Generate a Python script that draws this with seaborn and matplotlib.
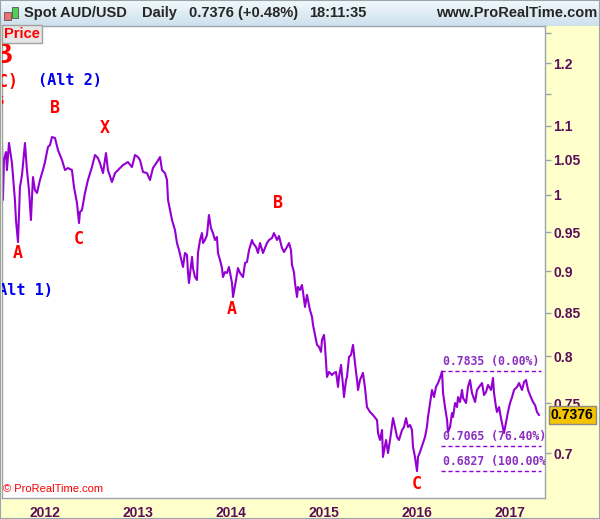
import matplotlib
matplotlib.use("Agg")
import matplotlib.pyplot as plt
import matplotlib.ticker as mticker
import matplotlib.transforms as mtransforms
from matplotlib.colors import LinearSegmentedColormap
from matplotlib.patches import Rectangle
import numpy as np
import seaborn as sns

# AUD/USD daily close (decimal year, price)
years = [
    2011.538, 2011.548, 2011.559, 2011.581, 2011.591, 2011.613, 2011.645, 2011.677,
    2011.688, 2011.710, 2011.731, 2011.753, 2011.785, 2011.806, 2011.828, 2011.849,
    2011.871, 2011.892, 2011.914, 2011.946, 2011.978, 2012.000, 2012.032, 2012.054,
    2012.075, 2012.108, 2012.140, 2012.183, 2012.215, 2012.247, 2012.290, 2012.312,
    2012.344, 2012.366, 2012.376, 2012.398, 2012.430, 2012.462, 2012.505, 2012.538,
    2012.570, 2012.591, 2012.624, 2012.656, 2012.677, 2012.720, 2012.753, 2012.785,
    2012.839, 2012.892, 2012.935, 2012.968, 2013.000, 2013.022, 2013.054, 2013.097,
    2013.129, 2013.161, 2013.204, 2013.237, 2013.258, 2013.290, 2013.312, 2013.323,
    2013.344, 2013.366, 2013.398, 2013.419, 2013.441, 2013.473, 2013.484, 2013.505,
    2013.527, 2013.538, 2013.548, 2013.581, 2013.591, 2013.613, 2013.634, 2013.645,
    2013.667, 2013.688, 2013.699, 2013.720, 2013.742, 2013.763, 2013.785, 2013.806,
    2013.828, 2013.849, 2013.860, 2013.882, 2013.903, 2013.914, 2013.935, 2013.957,
    2013.978, 2014.011, 2014.022, 2014.054, 2014.075, 2014.097, 2014.129, 2014.151,
    2014.172, 2014.194, 2014.226, 2014.237, 2014.269, 2014.290, 2014.312, 2014.344,
    2014.387, 2014.409, 2014.441, 2014.462, 2014.495, 2014.516, 2014.548, 2014.570,
    2014.602, 2014.624, 2014.645, 2014.656, 2014.677, 2014.688, 2014.710, 2014.720,
    2014.742, 2014.763, 2014.774, 2014.796, 2014.817, 2014.828, 2014.849, 2014.871,
    2014.882, 2014.903, 2014.925, 2014.946, 2014.968, 2014.978, 2015.000, 2015.011,
    2015.022, 2015.032, 2015.054, 2015.086, 2015.108, 2015.129, 2015.151, 2015.161,
    2015.183, 2015.204, 2015.215, 2015.237, 2015.247, 2015.269, 2015.290, 2015.312,
    2015.333, 2015.355, 2015.366, 2015.387, 2015.419, 2015.441, 2015.462, 2015.495,
    2015.527, 2015.570, 2015.581, 2015.602, 2015.624, 2015.634, 2015.667, 2015.688,
    2015.710, 2015.742, 2015.763, 2015.785, 2015.806, 2015.839, 2015.860, 2015.882,
    2015.903, 2015.925, 2015.946, 2015.957, 2015.978, 2016.000, 2016.011, 2016.032,
    2016.065, 2016.086, 2016.108, 2016.118, 2016.140, 2016.161, 2016.183, 2016.204,
    2016.226, 2016.247, 2016.269, 2016.280, 2016.301, 2016.323, 2016.333, 2016.355,
    2016.376, 2016.387, 2016.409, 2016.430, 2016.441, 2016.462, 2016.484, 2016.495,
    2016.527, 2016.548, 2016.570, 2016.591, 2016.624, 2016.645, 2016.667, 2016.699,
    2016.720, 2016.742, 2016.763, 2016.796, 2016.817, 2016.828, 2016.849, 2016.860,
    2016.882, 2016.903, 2016.925, 2016.935, 2016.957, 2016.978, 2017.000, 2017.022,
    2017.043, 2017.075, 2017.097, 2017.129, 2017.151, 2017.172, 2017.194, 2017.215,
    2017.247, 2017.269, 2017.290, 2017.312,
]
aud_usd = [
    1.0758, 0.9931, 1.0494, 1.0611, 1.0350, 1.0744, 1.0451, 0.9931,
    0.9659, 0.9370, 1.0110, 1.0279, 1.0744, 1.0350, 1.0068, 0.9659,
    1.0250, 1.0068, 1.0027, 1.0208, 1.0350, 1.0465, 1.0685, 1.0714,
    1.0833, 1.0818, 1.0641, 1.0494, 1.0350, 1.0379, 1.0350, 1.0110,
    0.9889, 0.9619, 0.9767, 0.9794, 1.0027, 1.0208, 1.0393, 1.0567,
    1.0523, 1.0451, 1.0307, 1.0596, 1.0350, 1.0180, 1.0307, 1.0350,
    1.0422, 1.0465, 1.0393, 1.0567, 1.0538, 1.0494, 1.0322, 1.0307,
    1.0208, 1.0379, 1.0465, 1.0538, 1.0350, 1.0307, 1.0208, 0.9931,
    0.9794, 0.9659, 0.9526, 0.9357, 0.9267, 0.9102, 0.9052, 0.9229,
    0.9204, 0.8977, 0.8854, 0.9179, 0.9039, 0.8927, 0.8891, 0.9229,
    0.9396, 0.9487, 0.9357, 0.9396, 0.9461, 0.9726, 0.9552, 0.9487,
    0.9396, 0.9435, 0.9229, 0.9140, 0.9039, 0.8927, 0.8989, 0.8977,
    0.9052, 0.8854, 0.8685, 0.8891, 0.9039, 0.8977, 0.8927, 0.9102,
    0.9115, 0.9267, 0.9396, 0.9357, 0.9306, 0.9229, 0.9357, 0.9229,
    0.9357, 0.9396, 0.9422, 0.9487, 0.9396, 0.9448, 0.9293, 0.9242,
    0.9306, 0.9357, 0.9267, 0.9077, 0.8989, 0.8854, 0.8685, 0.8806,
    0.8769, 0.8830, 0.8745, 0.8566, 0.8709, 0.8649, 0.8530, 0.8448,
    0.8355, 0.8241, 0.8128, 0.8106, 0.8050, 0.8184, 0.8241, 0.8106,
    0.7928, 0.7776, 0.7830, 0.7797, 0.7819, 0.7830, 0.7669, 0.7776,
    0.7906, 0.7690, 0.7563, 0.7743, 0.7776, 0.7994, 0.8016, 0.8128,
    0.7928, 0.7743, 0.7637, 0.7743, 0.7819, 0.7658, 0.7459, 0.7408,
    0.7377, 0.7326, 0.7196, 0.7127, 0.7226, 0.6962, 0.7127, 0.7000,
    0.7127, 0.7346, 0.7256, 0.7156, 0.7127, 0.7226, 0.7256, 0.7346,
    0.7256, 0.7276, 0.7226, 0.7059, 0.6962, 0.6827, 0.6962, 0.7010,
    0.7098, 0.7156, 0.7266, 0.7357, 0.7501, 0.7637, 0.7563, 0.7669,
    0.7711, 0.7765, 0.7835, 0.7605, 0.7459, 0.7326, 0.7206, 0.7256,
    0.7397, 0.7357, 0.7501, 0.7459, 0.7563, 0.7511, 0.7637, 0.7553,
    0.7501, 0.7669, 0.7743, 0.7605, 0.7511, 0.7637, 0.7669, 0.7711,
    0.7584, 0.7616, 0.7690, 0.7637, 0.7765, 0.7605, 0.7459, 0.7408,
    0.7459, 0.7346, 0.7246, 0.7196, 0.7306, 0.7408, 0.7501, 0.7563,
    0.7637, 0.7669, 0.7711, 0.7637, 0.7722, 0.7743, 0.7637, 0.7584,
    0.7511, 0.7480, 0.7408, 0.7376,
]

year_ticks = [2012, 2013, 2014, 2015, 2016, 2017]
price_ticks = [1.25, 1.2, 1.15, 1.1, 1.05, 1.0, 0.95, 0.9, 0.85, 0.8, 0.75, 0.7]
price_tick_labels = ["", "1.2", "", "1.1", "1.05", "1", "0.95", "0.9", "0.85", "0.8", "0.75", "0.7"]
last_price = 0.7376

fib_levels = [0.7835, 0.7065, 0.6827]
fib_labels = ["0.7835 (0.00%)", "0.7065 (76.40%)", "0.6827 (100.00%)"]
fib_start, fib_end = 2016.26, 2017.33

# wave labels: (text, year, price)
wave_labels = [
    ("B", 2012.108, 1.1276), ("X", 2012.645, 1.0969),
    ("A", 2011.710, 0.9229), ("C", 2012.366, 0.9409),
    ("A", 2014.011, 0.8541), ("B", 2014.505, 0.9889),
    ("C", 2016.000, 0.6706),
]
edge_labels = [("(C)", 2011.715, 1.1689), ("5", 2011.555, 1.1386)]
alt_labels = [("(Alt 2)", 2012.269, 1.1721, "center"), ("(Alt 1)", 2012.086, 0.8757, "right")]

W, H = 600, 519
LINE = "#9400d3"
TICK_TXT = "#5a0f5a"
BORDER = "#9aa4ac"

sns.set_style("white")
plt.rcParams["font.family"] = ["Liberation Sans", "DejaVu Sans"]

fig = plt.figure(figsize=(W / 100, H / 100), dpi=100)
fig.patch.set_facecolor("#ffffcc")

# header bar with a soft gradient
hdr = fig.add_axes([0, 1 - 26 / H, 1, 26 / H])
grad = np.linspace(0, 1, 50).reshape(-1, 1)
hdr.imshow(grad, aspect="auto", extent=[0, 1, 0, 1],
           cmap=LinearSegmentedColormap.from_list("hdr", ["#f2f8fc", "#cde1ec"]))
hdr.set_axis_off()

hy = 1 - 13 / H
fig.text(24 / W, hy, "Spot AUD/USD", fontsize=10.5, fontweight="bold", va="center")
fig.text(142 / W, hy, "Daily", fontsize=10.5, fontweight="bold", va="center")
fig.text(189 / W, hy, "0.7376 (+0.48%)", fontsize=10.5, fontweight="bold", va="center")
fig.text(309 / W, hy, "18:11:35", fontsize=10.5, fontweight="bold", va="center")
fig.text(597 / W, hy, "www.ProRealTime.com", fontsize=10.5, fontweight="bold",
         va="center", ha="right")

# small candle icon
for (x0, y0, w, h, fc) in [(4, 12, 7, 8, "#f07070"), (12, 7, 6, 11, "#50d050")]:
    fig.add_artist(Rectangle((x0 / W, 1 - (y0 + h) / H), w / W, h / H,
                             transform=fig.transFigure, fc=fc, ec="#555555", lw=0.6))

# main price panel
ax = fig.add_axes([2 / W, 21 / H, 543 / W, 472 / H])
ax.set_facecolor("white")
sns.lineplot(x=years, y=aud_usd, ax=ax, color=LINE, linewidth=1.5,
             estimator=None, sort=False)

ax.set_yscale("log")
ax.set_xlim(2011.538, 2017.376)
ax.set_ylim(0.6578, 1.263)
ax.set_xlabel("")
ax.set_ylabel("")

ax.yaxis.tick_right()
ax.yaxis.set_major_locator(mticker.FixedLocator(price_ticks))
ax.yaxis.set_major_formatter(mticker.FixedFormatter(price_tick_labels))
ax.yaxis.set_minor_locator(mticker.NullLocator())
ax.set_xticks(year_ticks)
ax.set_xticklabels([str(y) for y in year_ticks])
ax.tick_params(axis="both", direction="out", length=4, width=1, color=BORDER,
               labelcolor=TICK_TXT, labelsize=10, pad=2)
ax.tick_params(axis="y", right=True, left=False)
plt.setp(ax.get_xticklabels() + ax.get_yticklabels(), fontweight="bold")
for s in ax.spines.values():
    s.set_color(BORDER)
    s.set_linewidth(1)

# fibonacci retracement levels
for lvl, lab in zip(fib_levels, fib_labels):
    ax.plot([fib_start, fib_end], [lvl, lvl], color=LINE, lw=1, ls=(0, (3, 2)))
    ax.annotate(lab, xy=(fib_start, lvl), xytext=(1, 7), textcoords="offset points",
                ha="left", va="center", color="#8b2fc0", fontsize=8.3, fontweight="bold",
                family="DejaVu Sans Mono", annotation_clip=False, clip_on=True)

# Elliott wave labels
for txt, x, y in wave_labels + edge_labels:
    ax.text(x, y, txt, color="red", fontsize=12 if txt != "5" else 9, fontweight="bold",
            family="DejaVu Sans Mono", ha="right" if txt in ("(C)", "5") else "center",
            va="center", clip_on=True)
ax.text(2011.54, 1.2133, "B", color="red", fontsize=21, fontweight="bold",
        ha="center", va="center", clip_on=True)
for txt, x, y, ha in alt_labels:
    ax.text(x, y, txt, color="#0000ee", fontsize=11, fontweight="bold",
            family="DejaVu Sans Mono", ha=ha, va="center", clip_on=True)

# last price tag on the axis
trans = mtransforms.blended_transform_factory(ax.transAxes, ax.transData)
ax.text(1.011, last_price, "0.7376", transform=trans, ha="left", va="center",
        fontsize=10, fontweight="bold", color="black", clip_on=False, zorder=10,
        bbox=dict(boxstyle="square,pad=0.15", fc="#f5c400", ec="#8a8a8a", lw=1))

# panel label and copyright
fig.text(4 / W, 1 - 34 / H, "Price", color="red", fontsize=10.5, fontweight="bold",
         va="center", bbox=dict(boxstyle="square,pad=0.15", fc="#e6e6e6", ec="#a0a0a0"))
fig.text(3 / W, 1 - 489 / H, "\u00a9 ProRealTime.com", color="red", fontsize=8, va="center")

fig.add_artist(Rectangle((0, 0), 1, 1, transform=fig.transFigure, fill=False,
                         ec=BORDER, lw=1.5))

fig.savefig("out.png", dpi=100)
